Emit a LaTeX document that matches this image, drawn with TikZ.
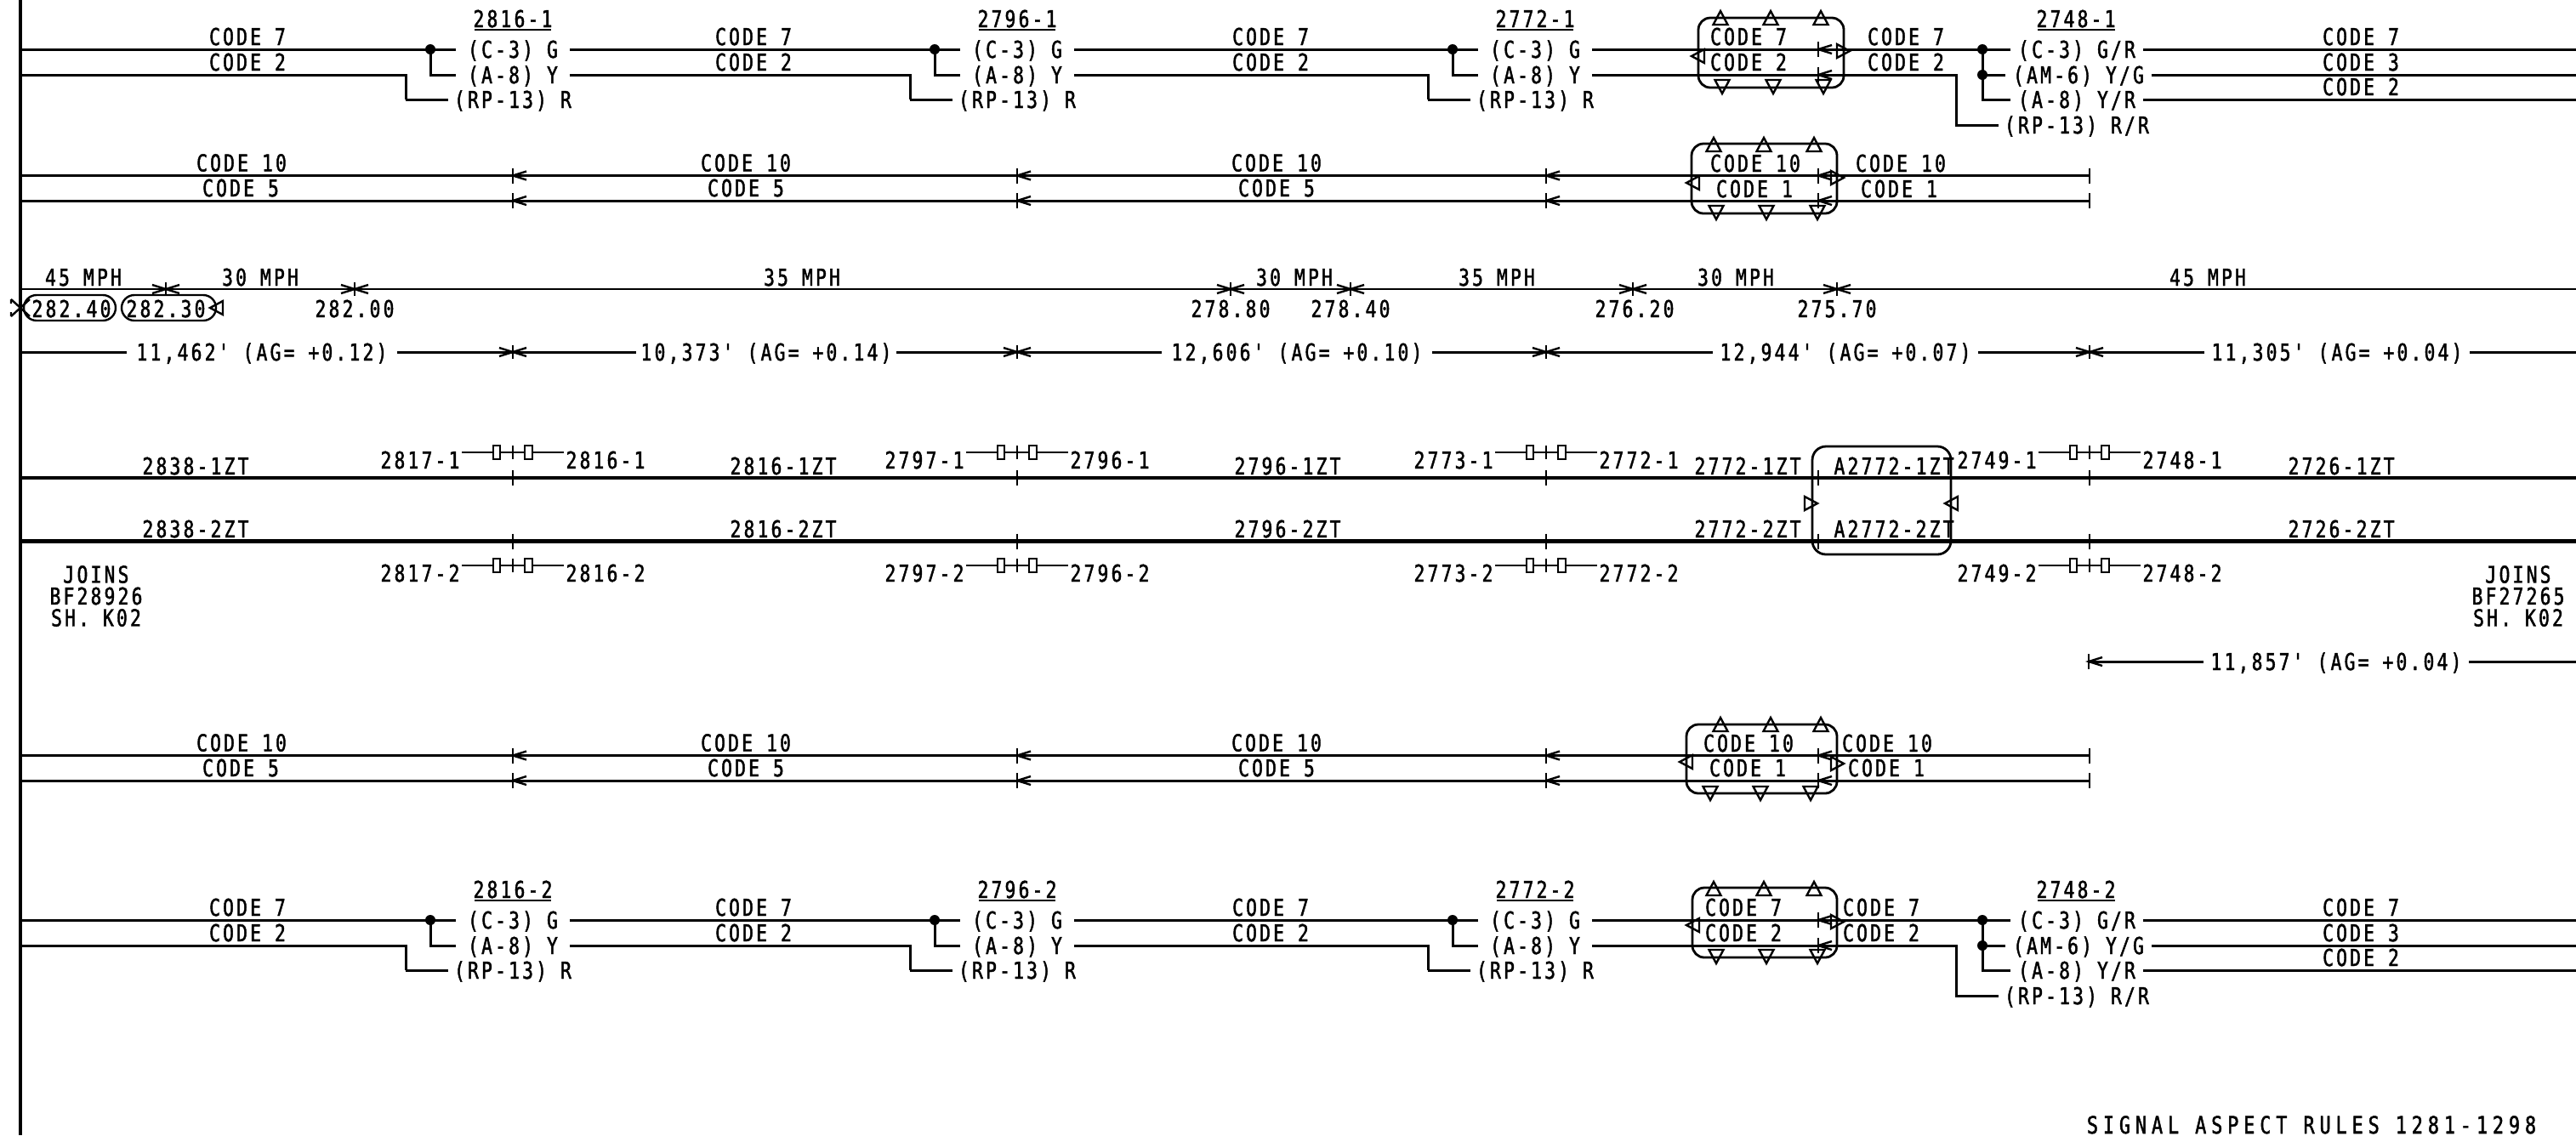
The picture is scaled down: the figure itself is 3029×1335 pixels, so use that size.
\documentclass[tikz,border=0pt]{standalone}
\usepackage{fontspec}
\newfontfamily\cadfont[FakeStretch=0.78,LetterSpace=11.5,FakeBold=1.6]{DejaVu Sans Mono}
\newfontfamily\cadwide[FakeStretch=0.78,LetterSpace=21,FakeBold=1.6]{DejaVu Sans Mono}
\tikzset{
  txt/.style={inner sep=0pt,outer sep=0pt,text height=10pt,text depth=0pt,anchor=center,font=\cadfont\fontsize{13.7}{14}\selectfont},
  pad/.style={txt,inner xsep=7pt},
  padS/.style={txt,inner xsep=4.5pt},
  ln/.style={line width=1.5pt,line cap=butt,line join=miter},
  thinln/.style={line width=1.4pt},
  trackln/.style={line width=2.2pt},
  mk/.style={line width=1.2pt},
  boxline/.style={line width=1.4pt,rounded corners=7pt},
}
\newcommand\tlab[5][txt]{\node[#1] (#2) at (#3,#4) {#5};}
\newcommand\tickL[2]{\draw[mk] (#1,#2-9)--(#1,#2+9); \draw[mk] (#1+16,#2-5)--(#1,#2)--(#1+16,#2+5);}
\newcommand\tickB[2]{\draw[mk] (#1,#2-8)--(#1,#2+8); \draw[mk] (#1+16,#2-5)--(#1,#2)--(#1+16,#2+5); \draw[mk] (#1-16,#2-5)--(#1,#2)--(#1-16,#2+5);}
\newcommand\tickP[2]{\draw[mk] (#1,#2-9)--(#1,#2+9);}
\newcommand\triU[2]{\draw[mk] (#1,#2)--(#1-8.5,#2+16)--(#1+8.5,#2+16)--cycle;}
\newcommand\triD[2]{\draw[mk] (#1,#2)--(#1-8.5,#2-16)--(#1+8.5,#2-16)--cycle;}
\newcommand\triW[2]{\draw[mk] (#1,#2)--(#1+15,#2-8)--(#1+15,#2+8)--cycle;}
\newcommand\triE[2]{\draw[mk] (#1,#2)--(#1-15,#2-8)--(#1-15,#2+8)--cycle;}
% signal: id, centre x, dy, title
\newcommand\sigclus[4]{%
  \tlab{#1t}{#2}{22+#3}{#4}
  \draw[mk] (#2-45,35+#3)--(#2+45,35+#3);
  \tlab[pad]{#1g}{#2}{58+#3}{(C-3) G}
  \tlab[pad]{#1y}{#2}{88+#3}{(A-8) Y}
  \tlab[txt,inner xsep=3.5pt]{#1r}{#2}{117+#3}{(RP-13) R}
  \coordinate (#1d) at (#2-97,58+#3);
  \coordinate (#1e) at (#2-97,88+#3);
  \coordinate (#1p) at (#2-126,88+#3);
  \coordinate (#1q) at (#2-126,117+#3);
  \fill (#1d) circle[radius=6];
  \draw[ln] (#1d)--(#1e)--(#1y.west);
  \draw[ln] (#1q)--(#1r.west);
}
% whole signal row: id, dy, track
\newcommand\sigrow[3]{%
  \sigclus{#1A}{603}{#2}{2816-#3}
  \sigclus{#1B}{1196}{#2}{2796-#3}
  \sigclus{#1C}{1805}{#2}{2772-#3}
  \tlab{#1c1}{291}{43+#2}{CODE 7}\tlab{#1c2}{291}{73+#2}{CODE 2}
  \tlab{#1c3}{886}{43+#2}{CODE 7}\tlab{#1c4}{886}{73+#2}{CODE 2}
  \tlab{#1c5}{1494}{43+#2}{CODE 7}\tlab{#1c6}{1494}{73+#2}{CODE 2}
  \tlab{#1T}{2441}{22+#2}{2748-#3}
  \draw[mk] (2396,35+#2)--(2487,35+#2);
  \tlab[padS]{#1E1}{2442}{58+#2}{(C-3) G/R}
  \tlab[padS]{#1E2}{2444}{88+#2}{(AM-6) Y/G}
  \tlab[padS]{#1E3}{2442}{117+#2}{(A-8) Y/R}
  \tlab[txt,inner xsep=3.5pt]{#1E4}{2442}{147+#2}{(RP-13) R/R}
  \tlab{#1r1}{2776}{43+#2}{CODE 7}\tlab{#1r2}{2776}{73+#2}{CODE 3}\tlab{#1r3}{2776}{102+#2}{CODE 2}
  \coordinate (#1L1) at (24,58+#2);\coordinate (#1L2) at (24,88+#2);
  \coordinate (#1F1) at (2331,58+#2);\coordinate (#1F2) at (2331,88+#2);\coordinate (#1F3) at (2331,117+#2);
  \coordinate (#1G1) at (2300,88+#2);\coordinate (#1G2) at (2300,147+#2);
  \coordinate (#1R1) at (3029,58+#2);\coordinate (#1R2) at (3029,88+#2);\coordinate (#1R3) at (3029,117+#2);
  \draw[ln] (#1L1)--(#1Ad)--(#1Ag.west);
  \draw[ln] (#1L2)--(#1Ap)--(#1Aq);
  \draw[ln] (#1Ag.east)--(#1Bd)--(#1Bg.west);
  \draw[ln] (#1Ay.east)--(#1Bp)--(#1Bq);
  \draw[ln] (#1Bg.east)--(#1Cd)--(#1Cg.west);
  \draw[ln] (#1By.east)--(#1Cp)--(#1Cq);
  \draw[ln] (#1Cg.east)--(#1F1)--(#1E1.west);
  \draw[ln] (#1Cy.east)--(#1G1)--(#1G2)--(#1E4.west);
  \draw[ln] (#1F1)--(#1F2)--(#1F3)--(#1E3.west);
  \draw[ln] (#1F2)--(#1E2.west);
  \draw[ln] (#1E1.east)--(#1R1);
  \draw[ln] (#1E2.east)--(#1R2);
  \draw[ln] (#1E3.east)--(#1R3);
  \fill (#1F1) circle[radius=6]; \fill (#1F2) circle[radius=6];
  \tickL{2138}{58+#2}\tickL{2138}{88+#2}
}
% code row with end ticks: id, y1, y2, lower text
\newcommand\coderow[4]{%
  \coordinate (#1a) at (24,#2);\coordinate (#1b) at (2457,#2);
  \coordinate (#1c) at (24,#3);\coordinate (#1d) at (2457,#3);
  \draw[ln] (#1a)--(#1b);\draw[ln] (#1c)--(#1d);
  \tickP{2457}{#2}\tickP{2457}{#3}
  \tlab{#1x1}{284}{#2-15}{CODE 10}\tlab{#1y1}{283}{#3-15}{CODE #4}
  \tlab{#1x2}{877}{#2-15}{CODE 10}\tlab{#1y2}{877}{#3-15}{CODE #4}
  \tlab{#1x3}{1501}{#2-15}{CODE 10}\tlab{#1y3}{1501}{#3-15}{CODE #4}
  \foreach \tx in {603,1196,1818,2138}{\tickL{\tx}{#2}\tickL{\tx}{#3}}
}
% insulated joint: id, x, y, left label, right label
\newcommand\joint[5]{%
  \tlab{#1l}{#2-109}{#3+9}{#4}
  \tlab{#1r}{#2+109}{#3+9}{#5}
  \coordinate (#1a) at (#2-60,#3);\coordinate (#1b) at (#2-23,#3);
  \coordinate (#1c) at (#2-15,#3);\coordinate (#1e) at (#2+14,#3);
  \coordinate (#1f) at (#2+23,#3);\coordinate (#1g) at (#2+60,#3);
  \draw[mk] (#1a)--(#1b);\draw[mk] (#1c)--(#1e);\draw[mk] (#1f)--(#1g);
  \draw[mk] (#2-23,#3-8) rectangle (#2-15,#3+8);
  \draw[mk] (#2+14,#3-8) rectangle (#2+23,#3+8);
  \draw[mk] (#2,#3-8)--(#2,#3+8);
}
\begin{document}
\begin{tikzpicture}[x=0.5pt,y=-0.5pt,line join=miter]
\useasboundingbox (0,0) rectangle (3029,1335);
\coordinate (railT) at (24,0);\coordinate (railB) at (24,1335);
\draw[trackln] (railT)--(railB);

% Signal rows
\sigrow{a}{0}{1}
\sigrow{f}{1024}{2}

% Row 1 joint box
\draw[boxline] (1997,21) rectangle (2168,103);
\foreach \tx in {2023,2082,2141}{\triU{\tx}{13}}
\foreach \tx in {2025,2085,2144}{\triD{\tx}{110}}
\triW{1989}{66}\triE{2175}{60}
\tlab{bA1}{2056}{43}{CODE 7}\tlab{bA2}{2056}{73}{CODE 2}
\tlab{bA3}{2241}{43}{CODE 7}\tlab{bA4}{2241}{73}{CODE 2}

% Row 2
\coderow{b}{206.5}{236}{5}
\draw[boxline] (1989,169) rectangle (2160,251);
\foreach \tx in {2015,2074,2133}{\triU{\tx}{162}}
\foreach \tx in {2018,2077,2137}{\triD{\tx}{258}}
\triW{1983}{215}\triE{2168}{209}
\tlab{bB1}{2064}{192}{CODE 10}\tlab{bB2}{2063}{222}{CODE 1}
\tlab{bB3}{2235}{192}{CODE 10}\tlab{bB4}{2233}{222}{CODE 1}

% Speed row
\coordinate (spL) at (24,340);\coordinate (spR) at (3029,340);
\draw[thinln] (spL)--(spR);
\foreach \tx in {195,417,1447,1588,1920,2160}{\tickB{\tx}{340}}
\tlab{s1}{98}{326}{45 MPH}\tlab{s2}{306}{326}{30 MPH}\tlab{s3}{943}{326}{35 MPH}
\tlab{s4}{1522}{326}{30 MPH}\tlab{s5}{1760}{326}{35 MPH}\tlab{s6}{2041}{326}{30 MPH}
\tlab{s7}{2596}{326}{45 MPH}
\tlab{m1}{84}{363}{282.40}\tlab{m2}{195}{363}{282.30}\tlab{m3}{417}{363}{282.00}
\tlab{m4}{1447}{363}{278.80}\tlab{m5}{1588}{363}{278.40}\tlab{m6}{1922}{363}{276.20}
\tlab{m7}{2160}{363}{275.70}
\draw[line width=1.2pt,rounded corners=7.5pt] (28,347) rectangle (136,377);
\draw[line width=1.2pt,rounded corners=7.5pt] (143,347) rectangle (254,377);
\triW{247}{362}
\draw[mk] (13,352)--(35,372) (13,372)--(35,352) (13,352)--(13,357) (13,372)--(13,367);

% Grade row
\coordinate (grL) at (24,414);\coordinate (grR) at (3029,414);
\tlab[txt,inner xsep=6pt]{g1}{308}{414}{11,462' (AG= +0.12)}
\tlab[txt,inner xsep=3pt]{g2}{901}{414}{10,373' (AG= +0.14)}
\tlab[txt,inner xsep=6pt]{g3}{1525}{414}{12,606' (AG= +0.10)}
\tlab[padS]{g4}{2170}{414}{12,944' (AG= +0.07)}
\tlab[padS]{g5}{2748}{414}{11,305' (AG= +0.04)}
\draw[ln] (grL)--(g1.west);\draw[ln] (g1.east)--(g2.west);\draw[ln] (g2.east)--(g3.west);
\draw[ln] (g3.east)--(g4.west);\draw[ln] (g4.east)--(g5.west);\draw[ln] (g5.east)--(grR);
\foreach \tx in {603,1196,1818,2457}{\tickB{\tx}{414}}

% Track circuits
\coordinate (t1L) at (24,562);\coordinate (t1R) at (3029,562);
\coordinate (t2L) at (24,636.5);\coordinate (t2R) at (3029,636.5);
\draw[trackln] (t1L)--(t1R);\draw[trackln] (t2L)--(t2R);
\foreach \tx in {603,1196,1818,2138,2457}{\tickP{\tx}{562}\tickP{\tx}{636.5}}
\tlab{z1}{230}{548}{2838-1ZT}\tlab{z2}{921}{548}{2816-1ZT}\tlab{z3}{1514}{548}{2796-1ZT}
\tlab{z4}{2055}{548}{2772-1ZT}\tlab{z5}{2227}{548}{A2772-1ZT}\tlab{z6}{2753}{548}{2726-1ZT}
\tlab{w1}{230}{622}{2838-2ZT}\tlab{w2}{921}{622}{2816-2ZT}\tlab{w3}{1514}{622}{2796-2ZT}
\tlab{w4}{2055}{622}{2772-2ZT}\tlab{w5}{2227}{622}{A2772-2ZT}\tlab{w6}{2753}{622}{2726-2ZT}
\draw[boxline,rounded corners=8pt] (2131,525) rectangle (2294,652);
\triE{2137}{592}\triW{2287}{592}

% Insulated joints
\joint{ja}{603}{532}{2817-1}{2816-1}
\joint{jb}{1196}{532}{2797-1}{2796-1}
\joint{jc}{1818}{532}{2773-1}{2772-1}
\joint{jd}{2457}{532}{2749-1}{2748-1}
\joint{je}{603}{665}{2817-2}{2816-2}
\joint{jf}{1196}{665}{2797-2}{2796-2}
\joint{jg}{1818}{665}{2773-2}{2772-2}
\joint{jh}{2457}{665}{2749-2}{2748-2}

% Joins notes
\node[align=center,inner sep=0pt,font=\cadfont\fontsize{13.7}{12.75}\selectfont] (jl) at (113,701) {JOINS\\BF28926\\SH. K02};
\node[align=center,inner sep=0pt,font=\cadfont\fontsize{13.7}{12.75}\selectfont] (jr) at (2961,701) {JOINS\\BF27265\\SH. K02};

% Lone grade line
\coordinate (hE) at (3029,778);\coordinate (hT) at (2456,778);
\tlab[padS]{h1}{2747}{778}{11,857' (AG= +0.04)}
\draw[ln] (hT)--(h1.west);\draw[ln] (h1.east)--(hE);
\tickL{2456}{778}

% Row 5
\coderow{e}{888.5}{918}{5}
\draw[boxline] (1983,852) rectangle (2160,933);
\foreach \tx in {2023,2082,2141}{\triU{\tx}{844}}
\foreach \tx in {2011,2070,2129}{\triD{\tx}{941}}
\triW{1975}{896}\triE{2168}{898}
\tlab{bE1}{2056}{874}{CODE 10}\tlab{bE2}{2055}{903}{CODE 1}
\tlab{bE3}{2219}{874}{CODE 10}\tlab{bE4}{2218}{903}{CODE 1}

% Row 6 joint box
\draw[boxline] (1990,1044) rectangle (2160,1126);
\foreach \tx in {2015,2074,2133}{\triU{\tx}{1037}}
\foreach \tx in {2018,2077,2137}{\triD{\tx}{1133}}
\triW{1983}{1088}\triE{2168}{1084}
\tlab{bF1}{2050}{1067}{CODE 7}\tlab{bF2}{2050}{1097}{CODE 2}
\tlab{bF3}{2212}{1067}{CODE 7}\tlab{bF4}{2212}{1097}{CODE 2}

% Footer
\node[txt,font=\cadwide\fontsize{14}{14}\selectfont] (foot) at (2718,1323) {SIGNAL ASPECT RULES 1281-1298};
\end{tikzpicture}
\end{document}
